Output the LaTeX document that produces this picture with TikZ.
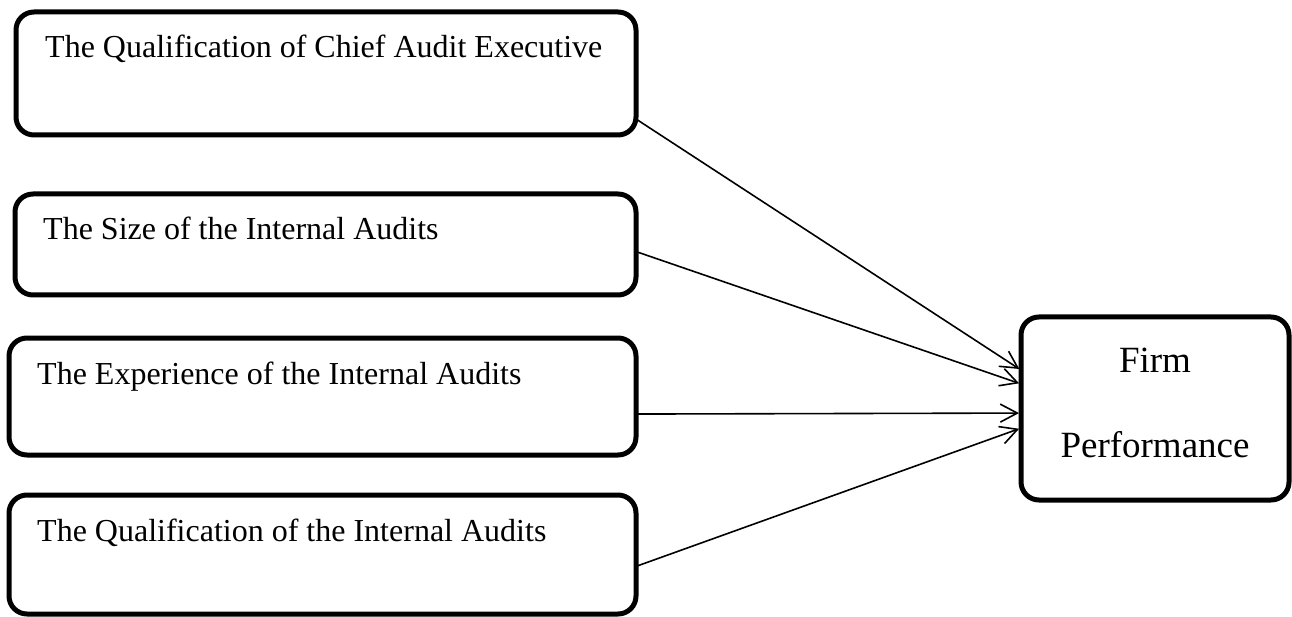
\documentclass[tikz,border=0pt]{standalone}
\usepackage{fontspec}
\setmainfont{Liberation Serif}
\usetikzlibrary{arrows.meta,calc}
\begin{document}
\begin{tikzpicture}[x=1pt,y=-1pt,
 box/.style={draw=black, line width=5pt, rounded corners=18pt, inner sep=0pt, outer sep=0pt, anchor=north west},
 lbl/.style={inner sep=0pt, anchor=base west, font=\fontsize{32}{38}\selectfont},
 flbl/.style={inner sep=0pt, anchor=base, font=\fontsize{37}{44}\selectfont},
 conn/.style={line width=1.6pt, -{Straight Barb[length=17pt,width=18pt]}, shorten >=2pt}]
\useasboundingbox (0,0) rectangle (1292,617);
\node[box, minimum width=620pt, minimum height=123pt] (b1) at (16,12) {};
\node[box, minimum width=621pt, minimum height=101pt] (b2) at (15,194) {};
\node[box, minimum width=627pt, minimum height=117pt] (b3) at (9,338) {};
\node[box, minimum width=627pt, minimum height=119pt] (b4) at (9,495) {};
\node[box, minimum width=268pt, minimum height=183pt] (fp) at (1021,317) {};
\node[lbl] (t1) at (45,58) {The Qualification of Chief Audit Executive};
\node[lbl] (t2) at (43,240) {The Size of the Internal Audits};
\node[lbl] (t3) at (37,384) {The Experience of the Internal Audits};
\node[lbl] (t4) at (37,541) {The Qualification of the Internal Audits};
\node[flbl] (f1) at (1155,372) {Firm};
\node[flbl] (f2) at (1155,457) {Performance};
\draw[conn] ($(b1.north east)!0.87!(b1.south east)$) -- ($(fp.north west)!0.29!(fp.south west)$);
\draw[conn] ($(b2.north east)!0.57!(b2.south east)$) -- ($(fp.north west)!0.366!(fp.south west)$);
\draw[conn] ($(b3.north east)!0.65!(b3.south east)$) -- ($(fp.north west)!0.525!(fp.south west)$);
\draw[conn] ($(b4.north east)!0.6!(b4.south east)$) -- ($(fp.north west)!0.607!(fp.south west)$);
\end{tikzpicture}
\end{document}
